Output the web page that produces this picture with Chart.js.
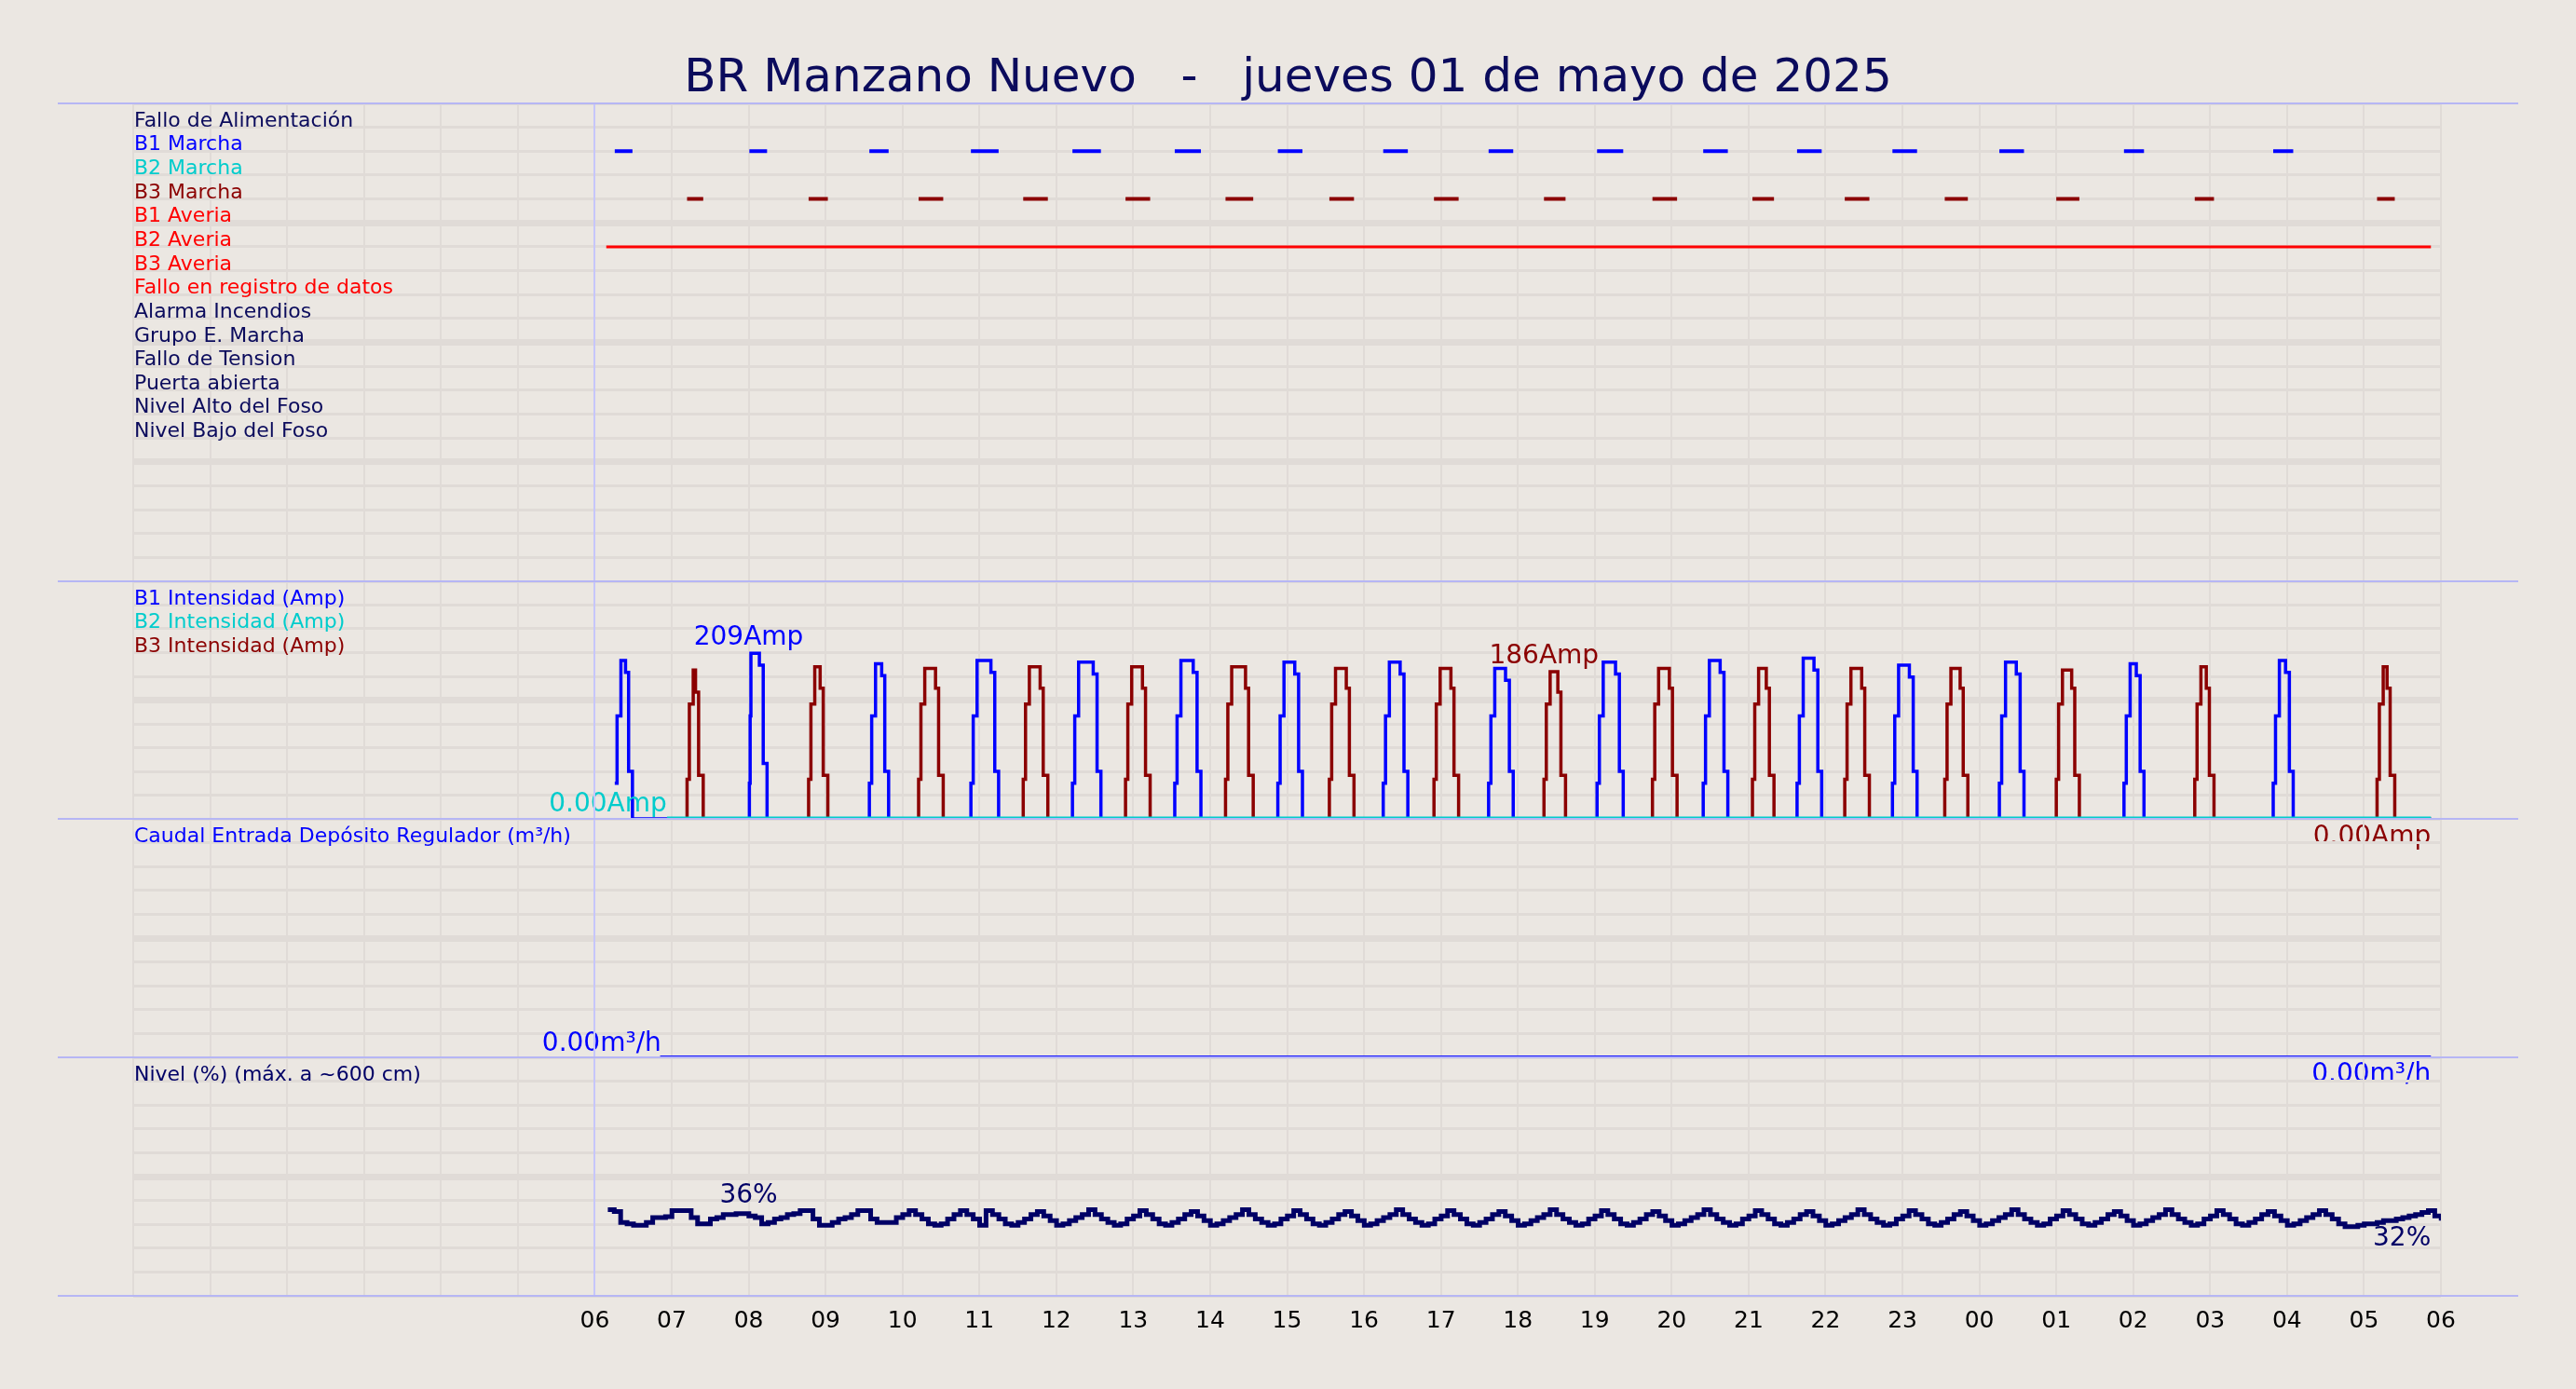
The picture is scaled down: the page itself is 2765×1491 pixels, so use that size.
<!DOCTYPE html>
<html>
<head>
<meta charset="utf-8">
<script src="https://cdn.jsdelivr.net/npm/chart.js@4.4.1/dist/chart.umd.min.js"></script>
<style>
  body { margin: 0; background: #ebe7e2; width: 2765px; height: 1491px; overflow: hidden; position: relative; font-family: "DejaVu Sans", sans-serif; }
  canvas { position: absolute; left: 0; }
  .sep { position: absolute; left: 62px; width: 2641px; height: 2px; background: #b6b6f4; z-index: 5; }
  #title { position: absolute; top: 54px; left: 0; width: 2765px; text-align: center; font-size: 50px; line-height: 54px; color: #0b0b5c; white-space: pre; }
</style>
</head>
<body>
<div id="title">BR Manzano Nuevo   -   jueves 01 de mayo de 2025</div>
<canvas id="c1"></canvas>
<canvas id="c2"></canvas>
<canvas id="c3"></canvas>
<canvas id="c4"></canvas>
<script>
// signal rows (top panel)
const signalLabels = ['Fallo de Alimentación', 'B1 Marcha', 'B2 Marcha', 'B3 Marcha', 'B1 Averia', 'B2 Averia',
  'B3 Averia', 'Fallo en registro de datos', 'Alarma Incendios', 'Grupo E. Marcha', 'Fallo de Tension',
  'Puerta abierta', 'Nivel Alto del Foso', 'Nivel Bajo del Foso'];
const signalColors = ['#0b0b5c', '#0000ff', '#00cccc', '#8b0000', '#ff0000', '#ff0000', '#ff0000', '#ff0000',
  '#0b0b5c', '#0b0b5c', '#0b0b5c', '#0b0b5c', '#0b0b5c', '#0b0b5c'];

// on/off periods, hours from 00:00 of the previous day
const b1Start = [6.26, 8.01, 9.57, 10.89, 12.21, 13.54, 14.88, 16.25, 17.62, 19.03, 20.41, 21.63, 22.87, 24.26, 25.88, 27.82];
const b1End   = [6.49, 8.24, 9.82, 11.25, 12.58, 13.88, 15.20, 16.57, 17.94, 19.37, 20.73, 21.95, 23.19, 24.58, 26.14, 28.08];
const b3Start = [7.20, 8.78, 10.21, 11.57, 12.90, 14.20, 15.55, 16.91, 18.34, 19.75, 21.05, 22.25, 23.55, 25.00, 26.80, 29.17];
const b3End   = [7.41, 9.03, 10.53, 11.89, 13.22, 14.56, 15.87, 17.23, 18.62, 20.07, 21.33, 22.57, 23.85, 25.30, 27.05, 29.40];
const b2AveriaStart = [6.15];
const b2AveriaEnd = [29.87];

// intensities [hour, amp]
const b1Amp = [
  [6.26,45],[6.29,130],[6.34,200],[6.40,185],[6.44,60],[6.49,0],
  [8.01,45],[8.02,130],[8.03,209],[8.14,194],[8.19,70],[8.24,0],
  [9.57,45],[9.60,130],[9.65,196],[9.73,181],[9.77,60],[9.82,0],
  [10.89,45],[10.92,130],[10.97,200],[11.15,185],[11.20,60],[11.25,0],
  [12.21,45],[12.24,130],[12.29,198],[12.48,183],[12.53,60],[12.58,0],
  [13.54,45],[13.57,130],[13.62,200],[13.78,185],[13.83,60],[13.88,0],
  [14.88,45],[14.91,130],[14.96,198],[15.10,183],[15.15,60],[15.20,0],
  [16.25,45],[16.28,130],[16.33,198],[16.47,183],[16.52,60],[16.57,0],
  [17.62,45],[17.65,130],[17.70,190],[17.84,175],[17.89,60],[17.94,0],
  [19.03,45],[19.06,130],[19.11,198],[19.27,183],[19.32,60],[19.37,0],
  [20.41,45],[20.44,130],[20.49,200],[20.63,185],[20.68,60],[20.73,0],
  [21.63,45],[21.66,130],[21.71,203],[21.85,188],[21.90,60],[21.95,0],
  [22.87,45],[22.90,130],[22.95,194],[23.09,179],[23.14,60],[23.19,0],
  [24.26,45],[24.29,130],[24.34,198],[24.48,183],[24.53,60],[24.58,0],
  [25.88,45],[25.91,130],[25.96,196],[26.04,181],[26.09,60],[26.14,0],
  [27.82,45],[27.85,130],[27.90,200],[27.98,185],[28.03,60],[28.08,0],
  [29.87,0]
];
const b2Amp = [[6.94,0],[29.87,0]];
const b3Amp = [
  [6.94,0],
  [7.20,50],[7.23,145],[7.28,188],[7.31,160],[7.35,55],[7.41,0],
  [8.78,50],[8.81,145],[8.86,192],[8.93,165],[8.97,55],[9.03,0],
  [10.21,50],[10.24,145],[10.29,190],[10.43,165],[10.47,55],[10.53,0],
  [11.57,50],[11.60,145],[11.65,192],[11.79,165],[11.83,55],[11.89,0],
  [12.90,50],[12.93,145],[12.98,192],[13.12,165],[13.16,55],[13.22,0],
  [14.20,50],[14.23,145],[14.28,192],[14.46,165],[14.50,55],[14.56,0],
  [15.55,50],[15.58,145],[15.63,190],[15.77,165],[15.81,55],[15.87,0],
  [16.91,50],[16.94,145],[16.99,190],[17.13,165],[17.17,55],[17.23,0],
  [18.34,50],[18.37,145],[18.42,186],[18.52,160],[18.56,55],[18.62,0],
  [19.75,50],[19.78,145],[19.83,190],[19.97,165],[20.01,55],[20.07,0],
  [21.05,50],[21.08,145],[21.13,190],[21.23,165],[21.27,55],[21.33,0],
  [22.25,50],[22.28,145],[22.33,190],[22.47,165],[22.51,55],[22.57,0],
  [23.55,50],[23.58,145],[23.63,190],[23.75,165],[23.79,55],[23.85,0],
  [25.00,50],[25.03,145],[25.08,188],[25.20,165],[25.24,55],[25.30,0],
  [26.80,50],[26.83,145],[26.88,192],[26.95,165],[26.99,55],[27.05,0],
  [29.17,50],[29.20,145],[29.25,192],[29.30,165],[29.34,55],[29.40,0],
  [29.87,0]
];

// caudal [hour, m3/h]
const caudal = [[6.85,0],[29.87,0]];

// nivel, one value every 5 minutes from 06:10
const nivelStart = 6.17;
const nivel = [
  36.1,35.4,30.8,30.2,29.6,29.6,30.8,32.8,32.8,33.2,35.7,35.7,35.7,32.8,30.2,30.2,32.2,32.8,34.1,34.1,
  34.5,34.5,33.5,32.8,30.2,30.8,32.2,32.8,34.1,34.5,35.7,35.7,32.2,29.6,29.6,30.8,32.2,32.8,34.1,35.7,
  35.7,32.2,30.8,30.8,30.8,32.8,34.1,35.7,34.1,32.2,30.2,29.6,30.2,32.2,34.1,35.7,34.1,32.2,29.6,
  35.7,34.1,32.2,30.2,29.6,30.8,32.2,34.1, 35.4,33.5,31.5,29.6,30.2,31.5,32.8,34.1,
  36.1,34.1,32.2,30.8,29.6,30.2,32.2,33.5, 35.7,34.1,32.2,30.2,29.6,30.8,32.2,34.1,
  35.4,33.5,31.5,29.6,30.2,31.5,32.8,34.1, 36.1,34.1,32.2,30.8,29.6,30.2,32.2,33.5,
  35.7,34.1,32.2,30.2,29.6,30.8,32.2,34.1, 35.4,33.5,31.5,29.6,30.2,31.5,32.8,34.1,
  36.1,34.1,32.2,30.8,29.6,30.2,32.2,33.5, 35.7,34.1,32.2,30.2,29.6,30.8,32.2,34.1,
  35.4,33.5,31.5,29.6,30.2,31.5,32.8,34.1, 36.1,34.1,32.2,30.8,29.6,30.2,32.2,33.5,
  35.7,34.1,32.2,30.2,29.6,30.8,32.2,34.1, 35.4,33.5,31.5,29.6,30.2,31.5,32.8,34.1,
  36.1,34.1,32.2,30.8,29.6,30.2,32.2,33.5, 35.7,34.1,32.2,30.2,29.6,30.8,32.2,34.1,
  35.4,33.5,31.5,29.6,30.2,31.5,32.8,34.1, 36.1,34.1,32.2,30.8,29.6,30.2,32.2,33.5,
  35.7,34.1,32.2,30.2,29.6,30.8,32.2,34.1, 35.4,33.5,31.5,29.6,30.2,31.5,32.8,34.1,
  36.1,34.1,32.2,30.8,29.6,30.2,32.2,33.5, 35.7,34.1,32.2,30.2,29.6,30.8,32.2,34.1,
  35.4,33.5,31.5,29.6,30.2,31.5,32.8,34.1, 36.1,34.1,32.2,30.8,29.6,30.2,32.2,33.5,
  35.7,34.1,32.2,30.2,29.6,30.8,32.2,34.1, 35.4,33.5,31.5,29.6,30.2,31.5,32.8,34.1,
  35.7,34.1,32.2,30.2,29.0,29.0,29.6,30.2,30.2,30.8,31.5,31.5,32.2,32.8,33.5,34.1,35.0,35.7,33.5,31.5,
  31.5,32.2,32.8,32.8,32.2,32.2
];

const hourTicks = ['06','07','08','09','10','11','12','13','14','15','16','17','18','19','20','21','22','23','00','01','02','03','04','05','06'];

Chart.defaults.font.family = '"DejaVu Sans", sans-serif';
Chart.defaults.animation = false;

const LEFT = 143, RIGHT = 2765 - 2620, EXTRA = 60;
const gridCol = '#e0dbd7';

function segments(starts, ends, row) {
  const out = [];
  starts.forEach((s, i) => { out.push({x: s, y: row}, {x: ends[i], y: row}, {x: ends[i], y: null}); });
  return out;
}
function pts(arr) { return arr.map(p => ({x: p[0], y: p[1]})); }

const textPlugin = {
  id: 'panelText',
  afterDatasetsDraw(chart, args, o) {
    const ctx = chart.ctx, xs = chart.scales.x, ys = chart.scales.y;
    ctx.save();
    (o.corner || []).forEach(l => {
      ctx.font = '22px "DejaVu Sans"';
      ctx.fillStyle = l.color;
      ctx.textAlign = 'left';
      ctx.textBaseline = 'alphabetic';
      ctx.fillText(l.text, chart.chartArea.left + 1, ys.getPixelForValue(l.y) - 1);
    });
    (o.notes || []).forEach(n => {
      ctx.font = '28px "DejaVu Sans"';
      ctx.fillStyle = n.color;
      ctx.textAlign = n.align || 'center';
      ctx.textBaseline = 'middle';
      ctx.fillText(n.text, xs.getPixelForValue(n.x), ys.getPixelForValue(n.y));
    });
    ctx.restore();
  }
};

function makeChart(id, top, height, datasets, y, text, bottom) {
  const cv = document.getElementById(id);
  cv.style.top = top + 'px';
  cv.width = 2765; cv.height = height + EXTRA;
  return new Chart(cv, {
    type: 'line',
    data: { datasets },
    plugins: [textPlugin],
    options: {
      responsive: false, devicePixelRatio: 1,
      layout: { padding: { left: LEFT, right: RIGHT, top: 0, bottom: bottom ? 0 : EXTRA } },
      elements: { point: { radius: 0 }, line: { tension: 0, borderWidth: 3.5 } },
      plugins: { legend: { display: false }, tooltip: { enabled: false }, panelText: text },
      scales: {
        x: {
          type: 'linear', min: 0, max: 30,
          ticks: { display: !!bottom, stepSize: 1, autoSkip: false, maxRotation: 0, padding: 12,
            color: '#000', font: { size: 25 },
            callback: v => v >= 6 ? hourTicks[v - 6] : '' },
          grid: { color: gridCol, lineWidth: 2, drawTicks: false },
          border: { display: false },
          afterFit: s => { s.height = bottom ? EXTRA : 0; }
        },
        y: Object.assign({
          ticks: { display: false },
          border: { display: false },
          afterFit: s => { s.width = 0; }
        }, y)
      }
    }
  });
}

// signals panel
makeChart('c1', 111, 513, [
  { data: segments(b1Start, b1End, 2), borderColor: '#0000ff', borderWidth: 4 },
  { data: segments(b3Start, b3End, 4), borderColor: '#8b0000', borderWidth: 4 },
  { data: segments(b2AveriaStart, b2AveriaEnd, 6), borderColor: '#ff0000', borderWidth: 3 }
], {
  min: 0, max: 20, reverse: true,
  afterBuildTicks: s => { s.ticks = Array.from({length: 21}, (_, i) => ({value: i})); },
  grid: { drawTicks: false, color: gridCol, lineWidth: c => [5, 10, 15].includes(c.tick.value) ? 7 : 3 }
}, { corner: signalLabels.map((t, i) => ({text: t, color: signalColors[i], y: i + 1})) });

// intensidades
makeChart('c2', 624, 255, [
  { data: pts(b2Amp), borderColor: '#00cccc', borderWidth: 5 },
  { data: pts(b3Amp), borderColor: '#8b0000', stepped: true },
  { data: pts(b1Amp), borderColor: '#0000ff', stepped: true }
], {
  min: 0, max: 300,
  afterBuildTicks: s => { s.ticks = Array.from({length: 11}, (_, i) => ({value: i * 30})); },
  grid: { drawTicks: false, color: gridCol, lineWidth: c => c.tick.value === 150 ? 7 : 3 }
}, {
  corner: [
    {text: 'B1 Intensidad (Amp)', color: '#0000ff', y: 270},
    {text: 'B2 Intensidad (Amp)', color: '#00cccc', y: 240},
    {text: 'B3 Intensidad (Amp)', color: '#8b0000', y: 210}
  ],
  notes: [
    {text: '209Amp', color: '#0000ff', x: 8.0, y: 228},
    {text: '186Amp', color: '#8b0000', x: 18.34, y: 205},
    {text: '0.00Amp', color: '#00cccc', x: 6.17, y: 18},
    {text: '0.00Amp', color: '#8b0000', x: 29.87, y: -23, align: 'right'}
  ]
});

// caudal
makeChart('c3', 879, 256, [
  { data: pts(caudal), borderColor: '#1010ff', borderWidth: 4, clip: false }
], {
  min: 0, max: 10,
  afterBuildTicks: s => { s.ticks = Array.from({length: 11}, (_, i) => ({value: i})); },
  grid: { drawTicks: false, color: gridCol, lineWidth: c => c.tick.value === 5 ? 7 : 3 }
}, {
  corner: [{text: 'Caudal Entrada Depósito Regulador (m³/h)', color: '#0000ff', y: 9}],
  notes: [
    {text: '0.00m³/h', color: '#0000ff', x: 6.09, y: 0.55},
    {text: '0.00m³/h', color: '#0000ff', x: 29.87, y: -0.75, align: 'right'}
  ]
});

// nivel
makeChart('c4', 1135, 256, [
  { data: nivel.map((v, i) => ({x: nivelStart + i / 12, y: v})), borderColor: '#000066', borderWidth: 5, stepped: true }
], {
  min: 0, max: 100,
  afterBuildTicks: s => { s.ticks = Array.from({length: 11}, (_, i) => ({value: i * 10})); },
  grid: { drawTicks: false, color: gridCol, lineWidth: c => c.tick.value === 50 ? 7 : 3 }
}, {
  corner: [{text: 'Nivel (%) (máx. a ~600 cm)', color: '#000066', y: 90}],
  notes: [
    {text: '36%', color: '#000066', x: 8.0, y: 42},
    {text: '32%', color: '#000066', x: 29.87, y: 24, align: 'right'}
  ]
}, true);

// panel separators and the 06:00 marker
[111, 624, 879, 1135, 1391].forEach(y => {
  const d = document.createElement('div');
  d.className = 'sep'; d.style.top = (y - 1) + 'px';
  document.body.appendChild(d);
});
const v = document.createElement('div');
v.style.cssText = 'position:absolute;left:637px;top:111px;width:2px;height:1280px;background:#c6c6fa;z-index:4';
document.body.appendChild(v);
</script>
</body>
</html>
